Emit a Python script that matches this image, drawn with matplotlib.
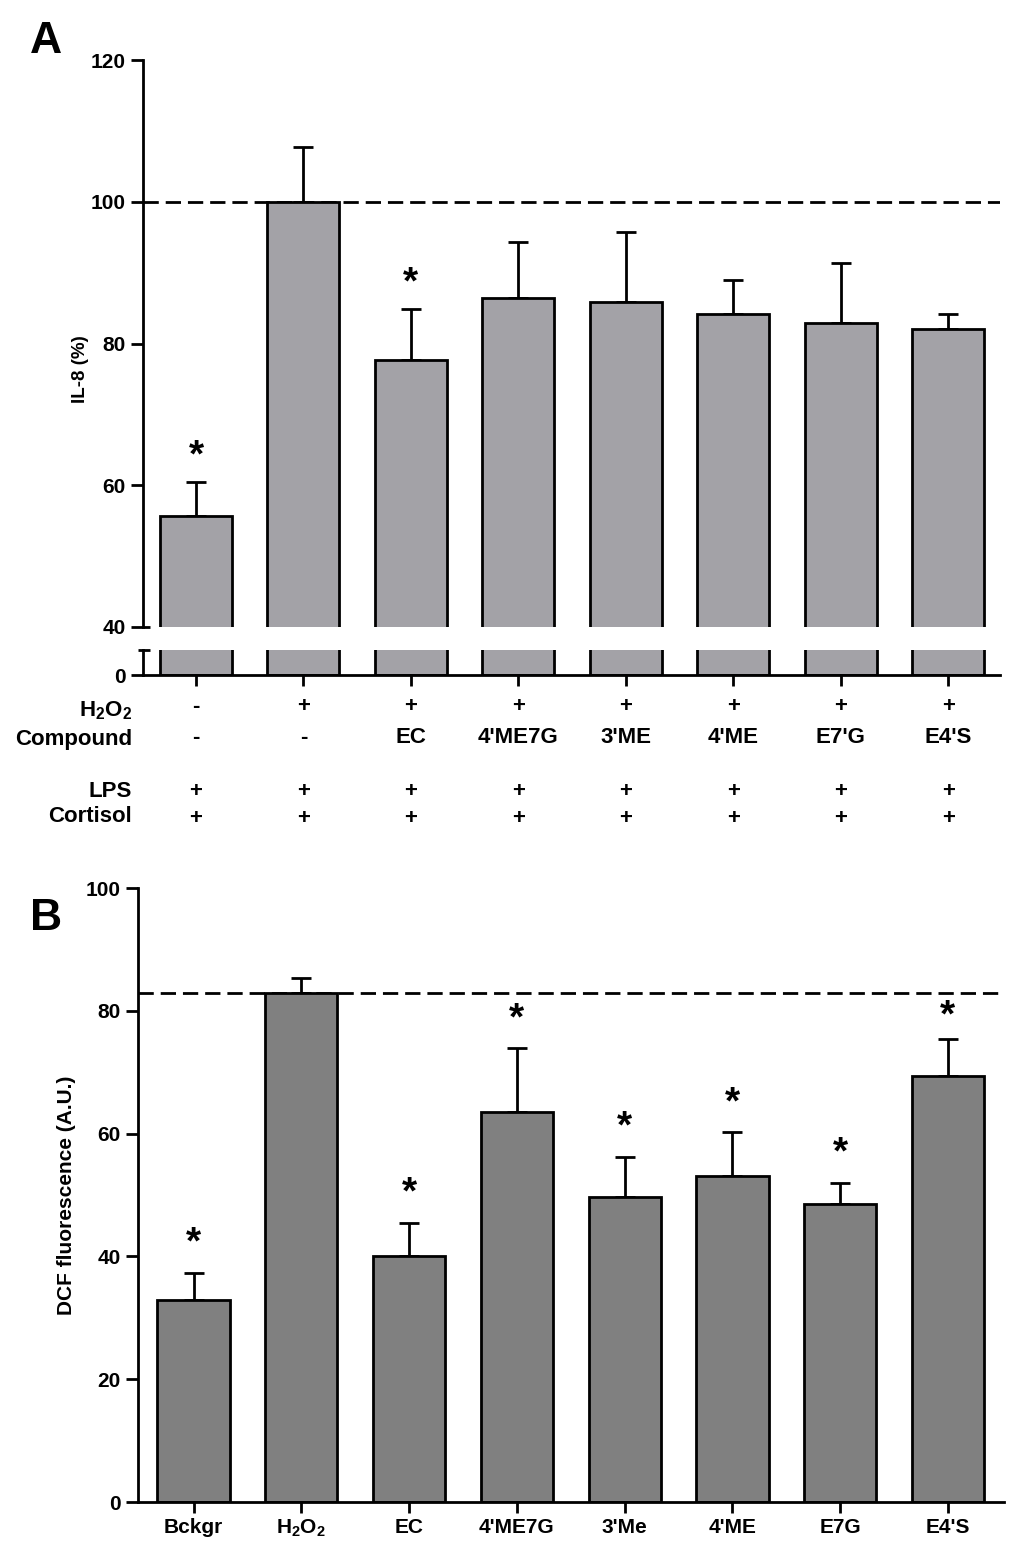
import matplotlib
matplotlib.use("Agg")
import matplotlib.pyplot as plt
from matplotlib import transforms
import numpy as np

plt.rcParams['font.family'] = ['Liberation Sans', 'DejaVu Sans']
plt.rcParams['font.weight'] = 'bold'
plt.rcParams['mathtext.fontset'] = 'custom'
plt.rcParams['mathtext.rm'] = 'Liberation Sans:bold'
plt.rcParams['mathtext.it'] = 'Liberation Sans:bold'
plt.rcParams['mathtext.bf'] = 'Liberation Sans:bold'

# ---------------- data ----------------
# Panel A: IL-8 (%)
il8_mean = [55.7, 100.0, 77.7, 86.4, 85.9, 84.2, 82.9, 82.1]
il8_sem = [4.8, 7.7, 7.2, 7.9, 9.9, 4.8, 8.5, 2.1]
il8_sig = [True, False, True, False, False, False, False, False]
il8_ref = 100.0
h2o2_row = ['-', '+', '+', '+', '+', '+', '+', '+']
compound_row = ['-', '-', 'EC', "4'ME7G", "3'ME", "4'ME", "E7'G", "E4'S"]
lps_row = ['+', '+', '+', '+', '+', '+', '+', '+']
cortisol_row = ['+', '+', '+', '+', '+', '+', '+', '+']
row_labels = [r'H$_2$O$_2$', 'Compound', 'LPS', 'Cortisol']
il8_yticks = [40, 60, 80, 100, 120]

# Panel B: DCF fluorescence
dcf_labels = ['Bckgr', r'H$_2$O$_2$', 'EC', "4'ME7G", "3'Me", "4'ME", 'E7G', "E4'S"]
dcf_mean = [32.9, 82.9, 40.1, 63.5, 49.6, 53.1, 48.5, 69.4]
dcf_sem = [4.4, 2.5, 5.4, 10.4, 6.6, 7.1, 3.5, 6.0]
dcf_sig = [True, False, True, True, True, True, True, True]
dcf_ref = 82.9
dcf_yticks = [0, 20, 40, 60, 80, 100]

# ---------------- layout ----------------
W, H = 1024, 1550
fig = plt.figure(figsize=(W / 100, H / 100), dpi=100)


def fx(px):
    return px / W


def fy(py):
    return 1 - py / H


LW = 2.0
colA = '#a3a2a7'
colB = '#808080'
TICKFS = 15
TXTFS = 16
STARFS = 28

axA = fig.add_axes([fx(143), fy(627), fx(1000) - fx(143), fy(60) - fy(627)])
axA2 = fig.add_axes([fx(143), fy(675), fx(1000) - fx(143), fy(650) - fy(675)])
axB = fig.add_axes([fx(138), fy(1502), fx(1004) - fx(138), fy(888) - fy(1502)])

x = np.arange(len(il8_mean))
xb = np.arange(len(dcf_mean))
bw = 0.67

# ---- Panel A upper ----
for ax in (axA, axA2):
    ax.bar(x, il8_mean, width=bw, color=colA, edgecolor='black', linewidth=LW, zorder=2)
    ax.set_xlim(-0.493, 7.48)
    for s in ['top', 'right']:
        ax.spines[s].set_visible(False)
    ax.spines['left'].set_linewidth(LW)
    ax.spines['bottom'].set_linewidth(LW)
    ax.tick_params(axis='both', width=LW, length=9, labelsize=TICKFS)

axA.errorbar(x, il8_mean, yerr=[np.zeros(len(il8_sem)), il8_sem], fmt='none',
             ecolor='black', elinewidth=LW, capsize=7.5, capthick=LW, zorder=1)
axA.set_ylim(40, 120)
axA.set_yticks(il8_yticks)
axA.spines['bottom'].set_visible(False)
axA.set_xticks([])
axA.axhline(il8_ref, color='black', lw=LW, dashes=(5.5, 2.5), zorder=0)
axA.set_ylabel('IL-8 (%)', fontsize=13.5, fontweight='bold')
axA.yaxis.set_label_coords(-0.063, 0.455)
for i, (m, s, sig) in enumerate(zip(il8_mean, il8_sem, il8_sig)):
    if sig:
        axA.annotate('*', xy=(i, m + s), xytext=(0, 18), textcoords='offset points',
                     ha='center', va='center', fontsize=STARFS, fontweight='bold')
# break caps
axA.plot([0, 7 / 857], [0, 0], transform=axA.transAxes, color='black', lw=LW,
         clip_on=False, solid_capstyle='butt')

# ---- Panel A lower ----
axA2.set_ylim(0, 10)
axA2.set_yticks([0])
axA2.set_xticks(x)
axA2.set_xticklabels([])
axA2.tick_params(axis='x', length=8)
axA2.plot([-5 / 857, 7 / 857], [1, 1], transform=axA2.transAxes, color='black', lw=LW,
          clip_on=False, solid_capstyle='butt')

# table below panel A
tr = transforms.blended_transform_factory(axA2.transData, fig.transFigure)
rows = [h2o2_row, compound_row, lps_row, cortisol_row]
row_y = [707, 738, 791, 818]
label_y = [711, 739, 791, 816]
for lab, ly in zip(row_labels, label_y):
    fig.text(fx(132), fy(ly), lab, ha='right', va='center', fontsize=TXTFS, fontweight='bold')
for vals, ry in zip(rows, row_y):
    for i, v in enumerate(vals):
        axA2.text(i, fy(ry), v, transform=tr, ha='center', va='center',
                  fontsize=TXTFS, fontweight='bold', clip_on=False)

# ---- Panel B ----
axB.bar(xb, dcf_mean, width=bw, color=colB, edgecolor='black', linewidth=LW, zorder=2)
axB.errorbar(xb, dcf_mean, yerr=[np.zeros(len(dcf_sem)), dcf_sem], fmt='none',
             ecolor='black', elinewidth=LW, capsize=7.5, capthick=LW, zorder=1)
axB.set_xlim(-0.515, 7.52)
axB.set_ylim(0, 100)
axB.set_yticks(dcf_yticks)
axB.set_xticks(xb)
axB.set_xticklabels(dcf_labels, fontsize=TICKFS, fontweight='bold')
for s in ['top', 'right']:
    axB.spines[s].set_visible(False)
axB.spines['left'].set_linewidth(LW)
axB.spines['bottom'].set_linewidth(LW)
axB.tick_params(axis='y', width=LW, length=9, labelsize=TICKFS)
axB.tick_params(axis='x', width=LW, length=8, labelsize=TICKFS)
axB.axhline(dcf_ref, xmax=0.995, color='black', lw=LW, dashes=(5.5, 2.5), zorder=0)
axB.set_ylabel('DCF fluorescence (A.U.)', fontsize=15, fontweight='bold')
axB.yaxis.set_label_coords(-0.0716, 0.5)
# star offset: 21 pt above the error bar, but kept below the dashed reference line
pt_per_unit = (614 / 100) * 72 / 100  # points per data unit in panel B
for i, (m, s, sig) in enumerate(zip(dcf_mean, dcf_sem, dcf_sig)):
    if sig:
        top = m + s
        if top + 21 / pt_per_unit > dcf_ref - 17 / pt_per_unit:
            axB.annotate('*', xy=(i, dcf_ref), xytext=(0, -17), textcoords='offset points',
                         ha='center', va='center', fontsize=STARFS, fontweight='bold')
        else:
            axB.annotate('*', xy=(i, top), xytext=(0, 21), textcoords='offset points',
                         ha='center', va='center', fontsize=STARFS, fontweight='bold')

# panel letters
fig.text(fx(30), fy(53), 'A', fontsize=32, fontweight='bold', ha='left', va='baseline')
fig.text(fx(30), fy(930), 'B', fontsize=32, fontweight='bold', ha='left', va='baseline')

fig.savefig('out.png', dpi=100)
